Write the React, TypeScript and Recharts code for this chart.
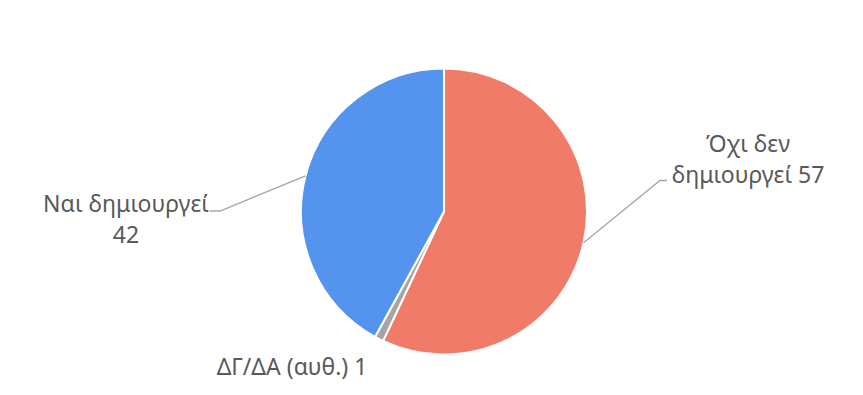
import { PieChart, Pie, Cell } from 'recharts'

const names = ['Όχι δεν δημιουργεί', 'ΔΓ/ΔΑ (αυθ.)', 'Ναι δημιουργεί']
const values = [57, 1, 42]
const colors = ['#EF7B68', '#A5A5A5', '#5594EE']

// label text split into lines, as in the original
const labelLines = [
  ['Όχι δεν', 'δημιουργεί 57'],
  ['ΔΓ/ΔΑ (αυθ.) 1'],
  ['Ναι δημιουργεί', '42'],
]

// label placement relative to the pie centre
const labelPos = [
  { tx: 304, ty: -60, elbow: [216, -31], end: [223, -31] },
  { tx: -152, ty: 163.5, elbow: null, end: null },
  { tx: -318, ty: 0.5, elbow: [-224, -0.5], end: [-234, -0.5] },
]

const data = names.map((name, i) => ({ name, value: values[i] }))

const RADIAN = Math.PI / 180

function renderLabel(props: any) {
  const { cx, cy, midAngle, outerRadius, index } = props
  const pos = labelPos[index]
  const ax = cx + outerRadius * Math.cos(-midAngle * RADIAN)
  const ay = cy + outerRadius * Math.sin(-midAngle * RADIAN)
  return (
    <g>
      {pos.elbow && pos.end && (
        <polyline
          points={`${ax},${ay} ${cx + pos.elbow[0]},${cy + pos.elbow[1]} ${cx + pos.end[0]},${cy + pos.end[1]}`}
          fill="none"
          stroke="#A6A6A6"
          strokeWidth={1.3}
        />
      )}
      {labelLines[index].map((t, j) => (
        <text
          key={j}
          x={cx + pos.tx}
          y={cy + pos.ty + j * 31}
          textAnchor="middle"
          fill="#595959"
          fontSize={23}
          fontFamily="'Noto Sans', sans-serif"
        >
          {t}
        </text>
      ))}
    </g>
  )
}

export default function App() {
  return (
    <div style={{ position: 'absolute', left: 0, top: 0, width: 863, height: 395, background: '#fff' }}>
      <PieChart width={863} height={395} margin={{ top: 0, right: 0, bottom: 0, left: 0 }}>
        <Pie
          data={data}
          dataKey="value"
          nameKey="name"
          cx={444}
          cy={211.5}
          outerRadius={143}
          startAngle={90}
          endAngle={-270}
          stroke="#fff"
          strokeWidth={2}
          label={renderLabel}
          labelLine={false}
          isAnimationActive={false}
        >
          {data.map((d, i) => (
            <Cell key={d.name} fill={colors[i]} />
          ))}
        </Pie>
      </PieChart>
    </div>
  )
}
